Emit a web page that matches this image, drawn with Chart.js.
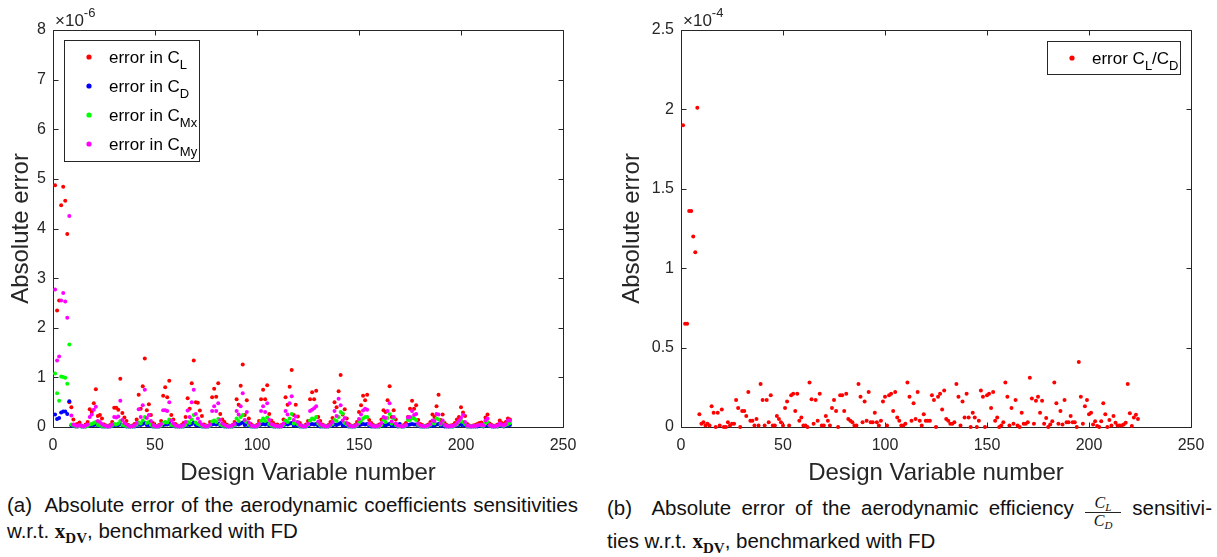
<!DOCTYPE html>
<html><head><meta charset="utf-8">
<script src="https://cdn.jsdelivr.net/npm/chart.js@4.4.0/dist/chart.umd.min.js"></script>
<style>
html,body{margin:0;padding:0;background:#fff;width:1217px;height:557px;overflow:hidden;font-family:"Liberation Sans",Arial,sans-serif;color:#111}
#cL{position:absolute;left:0;top:0}
#cR{position:absolute;left:608px;top:0}
.cap{position:absolute;font-size:20.5px;line-height:25px;white-space:nowrap;color:#111}
.just{text-align:justify;text-align-last:justify}
.bx{font-family:"Liberation Serif",serif;font-weight:bold;font-size:21px}
.bx sub{font-size:15px;vertical-align:-5px;line-height:0}
.frac{display:inline-block;position:relative;width:38px;height:0}
.frac i{position:absolute;left:0;width:38px;text-align:center;text-align-last:center;font-family:"Liberation Serif",serif;font-size:16px;line-height:16px}
.frac i sub{font-size:11px;vertical-align:-3px;line-height:0}
.frac .n{top:-20px}
.frac .d{top:-2px}
.frac .bar{position:absolute;left:1px;right:1px;top:-3px;border-top:1px solid #222}
</style></head>
<body>
<canvas id="cL" width="608" height="490"></canvas>
<canvas id="cR" width="609" height="490"></canvas>
<div class="cap just" style="left:7px;top:492px;width:571px">(a)&nbsp; Absolute error of the aerodynamic coefficients sensitivities</div>
<div class="cap" style="left:7px;top:518px">w.r.t. <span class="bx">x<sub>DV</sub></span>, benchmarked with FD</div>
<div class="cap just" style="left:607px;top:495px;width:605px">(b)&nbsp; Absolute error of the aerodynamic efficiency <span class="frac"><i class="n">C<sub>L</sub></i><span class="bar"></span><i class="d">C<sub>D</sub></i></span> sensitivi-</div>
<div class="cap" style="left:607px;top:528px">ties w.r.t. <span class="bx">x<sub>DV</sub></span>, benchmarked with FD</div>
<script>
// ---------- data ----------
const xTicks = [0, 50, 100, 150, 200, 250];
const yTicksLeft = [0, 1, 2, 3, 4, 5, 6, 7, 8];          // x 1e-6
const yTicksRight = [0, 0.5, 1, 1.5, 2, 2.5];             // x 1e-4

// error in C_L (x 1e-6)
const errCL = [
4.87,2.35,2.55,4.47,4.84,4.56,3.89,0.50,0.40,0.15,
0.05,0.06,0.09,0.03,0.02,0.05,0.10,0.36,0.30,0.48,
0.76,0.22,0.24,0.17,0.05,0.03,0.02,0.04,0.10,0.39,
0.39,0.35,0.97,0.28,0.19,0.12,0.04,0.02,0.03,0.06,
0.15,0.65,0.37,0.82,1.38,0.34,0.46,0.24,0.08,0.03,
0.02,0.04,0.12,0.63,0.80,0.60,0.93,0.24,0.15,0.06,
0.03,0.02,0.04,0.08,0.20,0.58,0.37,0.88,1.34,0.50,
0.49,0.33,0.22,0.05,0.03,0.02,0.10,0.60,0.77,0.61,
0.88,0.26,0.15,0.10,0.05,0.03,0.02,0.04,0.10,0.56,
0.45,0.83,1.26,0.24,0.54,0.17,0.06,0.03,0.02,0.04,
0.12,0.56,0.75,0.56,0.84,0.26,0.13,0.08,0.04,0.05,
0.02,0.04,0.15,0.60,0.45,0.81,1.15,0.24,0.45,0.21,
0.08,0.03,0.02,0.05,0.12,0.56,0.70,0.56,0.73,0.20,
0.12,0.05,0.03,0.02,0.04,0.10,0.18,0.50,0.40,0.72,
1.05,0.25,0.36,0.17,0.06,0.03,0.02,0.04,0.10,0.30,
0.44,0.63,0.54,0.65,0.14,0.08,0.04,0.02,0.03,0.05,
0.15,0.34,0.30,0.54,0.82,0.20,0.34,0.15,0.05,0.03,
0.02,0.04,0.08,0.20,0.37,0.53,0.37,0.44,0.14,0.06,
0.04,0.02,0.03,0.05,0.10,0.25,0.20,0.42,0.65,0.14,
0.25,0.08,0.04,0.02,0.03,0.04,0.08,0.15,0.20,0.40,
0.29,0.22,0.06,0.03,0.02,0.03,0.04,0.06,0.08,0.09,
0.05,0.19,0.25,0.07,0.04,0.02,0.03,0.05,0.13,0.08,
0.06,0.10,0.17,0.15];

// error in C_D (x 1e-6)
const errCD = [
0.25,0.16,0.18,0.29,0.31,0.31,0.26,0.52,0.03,0.02,
0.01,0.01,0.02,0.01,0.01,0.01,0.02,0.03,0.04,0.04,
0.05,0.03,0.02,0.01,0.01,0.01,0.01,0.01,0.02,0.04,
0.04,0.04,0.06,0.03,0.02,0.01,0.01,0.01,0.01,0.01,
0.02,0.05,0.04,0.06,0.08,0.04,0.04,0.02,0.01,0.01,
0.01,0.01,0.02,0.04,0.05,0.05,0.07,0.03,0.02,0.01,
0.01,0.01,0.01,0.01,0.02,0.05,0.04,0.06,0.09,0.04,
0.03,0.02,0.01,0.01,0.01,0.01,0.02,0.05,0.06,0.05,
0.07,0.03,0.02,0.01,0.01,0.01,0.01,0.01,0.02,0.06,
0.05,0.07,0.09,0.04,0.05,0.02,0.01,0.01,0.01,0.01,
0.02,0.05,0.06,0.05,0.07,0.03,0.02,0.01,0.01,0.01,
0.01,0.01,0.02,0.06,0.05,0.07,0.08,0.03,0.04,0.02,
0.01,0.01,0.01,0.01,0.02,0.05,0.06,0.05,0.06,0.02,
0.01,0.01,0.01,0.01,0.01,0.02,0.03,0.05,0.04,0.06,
0.08,0.03,0.04,0.02,0.01,0.01,0.01,0.01,0.02,0.03,
0.05,0.06,0.05,0.06,0.02,0.01,0.01,0.01,0.01,0.01,
0.02,0.04,0.03,0.05,0.06,0.02,0.04,0.02,0.01,0.06,
0.01,0.01,0.02,0.04,0.05,0.06,0.05,0.05,0.02,0.01,
0.01,0.01,0.01,0.01,0.02,0.03,0.03,0.05,0.06,0.02,
0.03,0.01,0.01,0.01,0.01,0.01,0.02,0.03,0.04,0.05,
0.04,0.03,0.01,0.01,0.01,0.01,0.01,0.01,0.02,0.02,
0.01,0.03,0.04,0.02,0.01,0.01,0.01,0.01,0.02,0.02,
0.01,0.02,0.04,0.04];

// error in C_Mx (x 1e-6)
const errCMx = [
1.08,0.68,0.53,1.02,1.01,0.99,0.87,1.66,0.05,0.03,
0.02,0.01,0.02,0.01,0.02,0.01,0.02,0.05,0.06,0.08,
0.10,0.04,0.03,0.02,0.01,0.02,0.01,0.02,0.03,0.06,
0.05,0.07,0.12,0.04,0.03,0.02,0.01,0.02,0.01,0.02,
0.04,0.09,0.07,0.13,0.20,0.08,0.10,0.04,0.02,0.01,
0.02,0.01,0.03,0.08,0.10,0.09,0.15,0.04,0.03,0.02,
0.01,0.02,0.01,0.02,0.04,0.10,0.08,0.15,0.24,0.09,
0.06,0.04,0.02,0.01,0.02,0.01,0.03,0.11,0.13,0.10,
0.16,0.05,0.03,0.02,0.01,0.02,0.01,0.02,0.03,0.17,
0.12,0.20,0.24,0.13,0.10,0.04,0.02,0.01,0.02,0.01,
0.04,0.12,0.17,0.12,0.19,0.06,0.03,0.02,0.01,0.02,
0.01,0.02,0.04,0.13,0.10,0.17,0.26,0.07,0.10,0.05,
0.02,0.01,0.02,0.01,0.04,0.13,0.17,0.15,0.20,0.07,
0.03,0.02,0.01,0.02,0.01,0.03,0.06,0.14,0.12,0.20,
0.30,0.27,0.08,0.05,0.02,0.01,0.02,0.01,0.03,0.08,
0.13,0.17,0.20,0.20,0.05,0.03,0.02,0.01,0.02,0.01,
0.04,0.13,0.10,0.18,0.26,0.07,0.17,0.04,0.02,0.01,
0.02,0.01,0.03,0.14,0.14,0.18,0.17,0.14,0.04,0.02,
0.01,0.02,0.01,0.02,0.04,0.08,0.07,0.17,0.15,0.05,
0.10,0.03,0.02,0.01,0.02,0.01,0.03,0.05,0.10,0.13,
0.10,0.06,0.02,0.01,0.02,0.01,0.02,0.03,0.04,0.03,
0.02,0.07,0.10,0.03,0.02,0.01,0.02,0.02,0.05,0.03,
0.02,0.04,0.06,0.08];

// error in C_My (x 1e-6)
const errCMy = [
2.77,1.34,1.42,2.55,2.70,2.53,2.20,4.25,0.23,0.05,
0.03,0.02,0.04,0.02,0.01,0.03,0.05,0.20,0.25,0.35,
0.41,0.12,0.10,0.06,0.03,0.02,0.01,0.02,0.05,0.20,
0.19,0.21,0.53,0.14,0.08,0.05,0.02,0.01,0.02,0.03,
0.08,0.36,0.20,0.44,0.75,0.18,0.24,0.12,0.04,0.02,
0.01,0.02,0.06,0.34,0.34,0.32,0.50,0.13,0.07,0.03,
0.02,0.01,0.02,0.04,0.10,0.33,0.20,0.50,0.75,0.26,
0.17,0.10,0.05,0.02,0.01,0.02,0.05,0.32,0.42,0.32,
0.48,0.14,0.07,0.04,0.02,0.01,0.02,0.03,0.06,0.32,
0.25,0.42,0.68,0.14,0.30,0.09,0.03,0.02,0.01,0.02,
0.06,0.32,0.42,0.30,0.48,0.14,0.06,0.04,0.02,0.02,
0.01,0.02,0.07,0.32,0.25,0.48,0.62,0.14,0.21,0.10,
0.04,0.02,0.01,0.02,0.06,0.32,0.35,0.38,0.42,0.11,
0.06,0.03,0.02,0.01,0.02,0.05,0.10,0.32,0.22,0.57,
0.44,0.13,0.18,0.08,0.03,0.02,0.01,0.02,0.05,0.16,
0.25,0.33,0.37,0.35,0.07,0.04,0.02,0.01,0.02,0.03,
0.08,0.20,0.18,0.32,0.48,0.11,0.20,0.07,0.03,0.02,
0.01,0.02,0.04,0.19,0.20,0.32,0.24,0.26,0.07,0.03,
0.02,0.01,0.02,0.03,0.06,0.13,0.12,0.26,0.25,0.07,
0.13,0.04,0.02,0.01,0.02,0.02,0.04,0.08,0.13,0.18,
0.24,0.10,0.03,0.02,0.01,0.02,0.02,0.03,0.04,0.05,
0.03,0.13,0.17,0.04,0.02,0.01,0.02,0.03,0.07,0.04,
0.03,0.06,0.13,0.13];

// error in C_L/C_D (x 1e-4)
const errEff = [
1.90,0.65,0.65,1.36,1.36,1.20,1.10,2.01,0.08,0.02,
0.03,0.01,0.02,0.01,0.13,0.09,0.00,0.09,0.01,0.11,
0.00,0.00,0.03,0.01,0.02,0.02,0.17,0.12,0.00,0.10,
0.10,0.07,0.22,0.04,0.04,0.01,0.05,0.01,0.27,0.17,
0.01,0.17,0.03,0.20,0.01,0.01,0.07,0.05,0.03,0.01,
0.12,0.16,0.01,0.20,0.21,0.10,0.21,0.04,0.06,0.01,
0.01,0.00,0.28,0.175,0.02,0.17,0.04,0.21,0.01,0.01,
0.07,0.04,0.01,0.12,0.17,0.10,0.00,0.20,0.20,0.10,
0.21,0.05,0.04,0.03,0.01,0.01,0.27,0.19,0.03,0.16,
0.04,0.22,0.03,0.03,0.09,0.03,0.01,0.04,0.16,0.19,
0.01,0.20,0.21,0.10,0.22,0.06,0.04,0.01,0.01,0.02,
0.28,0.19,0.04,0.15,0.05,0.22,0.04,0.01,0.08,0.04,
0.04,0.04,0.20,0.17,0.00,0.19,0.21,0.11,0.23,0.05,
0.04,0.02,0.02,0.03,0.27,0.19,0.01,0.16,0.06,0.21,
0.06,0.00,0.09,0.06,0.00,0.04,0.23,0.19,0.00,0.20,
0.21,0.12,0.22,0.04,0.06,0.00,0.01,0.03,0.28,0.19,
0.01,0.12,0.02,0.17,0.01,0.00,0.09,0.02,0.02,0.03,
0.31,0.18,0.02,0.165,0.19,0.09,0.165,0.02,0.057,0.00,
0.015,0.036,0.28,0.15,0.02,0.10,0.015,0.17,0.03,0.03,
0.07,0.03,0.03,0.00,0.41,0.19,0.02,0.13,0.17,0.08,
0.09,0.015,0.036,0.006,0.00,0.036,0.15,0.08,0.00,0.044,
0.01,0.07,0.027,0.01,0.01,0.01,0.015,0.027,0.27,0.086,
0.006,0.06,0.077,0.05];

const designVariable = errCL.map((_, i) => i + 1);

// ---------- rendering ----------
const FONT = '"Liberation Sans", Arial, Helvetica, sans-serif';
const AX = '#262626';
Chart.defaults.font.family = FONT;
Chart.defaults.color = AX;

const pts = arr => arr.map((v, i) => ({x: designVariable[i], y: v}));
const ds = (label, arr, color, order) => ({
  label, data: pts(arr), backgroundColor: color, borderColor: color,
  pointRadius: 2, pointBorderWidth: 0, pointHoverRadius: 2, order, clip: false
});

function framePlugin(cfg) {
  return {
    id: 'frame',
    beforeDatasetsDraw(chart) {
      const {ctx, chartArea: a, scales} = chart;
      const L = Math.round(a.left) + 0.5, R = Math.round(a.right) + 0.5;
      const T = Math.round(a.top) + 0.5, B = Math.round(a.bottom) + 0.5;
      ctx.save();
      ctx.strokeStyle = AX; ctx.lineWidth = 1;
      ctx.beginPath();
      ctx.rect(L, T, R - L, B - T);
      scales.x.ticks.forEach(t => {
        const px = Math.round(scales.x.getPixelForValue(t.value)) + 0.5;
        ctx.moveTo(px, B); ctx.lineTo(px, B - 5);
        ctx.moveTo(px, T); ctx.lineTo(px, T + 5);
      });
      scales.y.ticks.forEach(t => {
        const py = Math.round(scales.y.getPixelForValue(t.value)) + 0.5;
        ctx.moveTo(L, py); ctx.lineTo(L + 5, py);
        ctx.moveTo(R, py); ctx.lineTo(R - 5, py);
      });
      ctx.stroke();
      ctx.restore();
    },
    afterDatasetsDraw(chart) {
      const {ctx, chartArea: a} = chart;
      ctx.save();
      // exponent label
      ctx.fillStyle = AX;
      ctx.textBaseline = 'alphabetic';
      ctx.font = '17px ' + FONT;
      const ex = a.left + 2;
      ctx.fillText('\u00d710', ex, 26);
      const w = ctx.measureText('\u00d710').width;
      ctx.font = '13px ' + FONT;
      ctx.fillText(cfg.exp, ex + w, 17);
      // legend
      const lg = cfg.legend;
      ctx.fillStyle = '#fff';
      ctx.fillRect(lg.x, lg.y, lg.w, lg.h);
      ctx.strokeStyle = AX; ctx.lineWidth = 1;
      ctx.strokeRect(lg.x + 0.5, lg.y + 0.5, lg.w, lg.h);
      lg.items.forEach((it, k) => {
        const cy = lg.y + lg.first + k * lg.step;
        ctx.fillStyle = it.color;
        ctx.beginPath(); ctx.arc(lg.x + lg.dotX, cy, 2.6, 0, Math.PI * 2); ctx.fill();
        ctx.fillStyle = '#000';
        let tx = lg.x + lg.textX;
        it.parts.forEach(([s, sub]) => {
          ctx.font = (sub ? '13px ' : '17px ') + FONT;
          ctx.fillText(s, tx, cy + (sub ? 12 : 6));
          tx += ctx.measureText(s).width;
        });
      });
      ctx.restore();
    }
  };
}

function makeChart(id, datasets, opt) {
  return new Chart(document.getElementById(id), {
    type: 'scatter',
    data: {datasets},
    options: {
      responsive: false, animation: false, devicePixelRatio: 1,
      layout: {padding: {left: 0, right: opt.padRight, top: 30, bottom: 0}},
      plugins: {legend: {display: false}, tooltip: {enabled: false}},
      events: [],
      scales: {
        x: {
          type: 'linear', min: 0, max: 250,
          afterBuildTicks: s => { s.ticks = xTicks.map(v => ({value: v})); },
          ticks: {padding: 9, font: {size: 16}, color: AX, maxRotation: 0, autoSkip: false},
          grid: {display: false, drawTicks: false},
          border: {display: false},
          title: {display: true, text: 'Design Variable number', font: {size: 24}, color: AX, padding: {top: 0, bottom: 2}},
          afterFit: s => { s.height = 63; }
        },
        y: {
          type: 'linear', min: 0, max: opt.yMax,
          afterBuildTicks: s => { s.ticks = opt.yTicks.map(v => ({value: v})); },
          ticks: {padding: 7, font: {size: 16}, color: AX, autoSkip: false, callback: v => String(v)},
          grid: {display: false, drawTicks: false},
          border: {display: false},
          title: {display: true, text: 'Absolute error', font: {size: 24}, color: AX, padding: {top: opt.yTitlePad, bottom: 0}},
          afterFit: s => { s.width = opt.yWidth; }
        }
      }
    },
    plugins: [framePlugin(opt)]
  });
}

makeChart('cL', [
  ds('error in C_L', errCL, '#ff0000', 4),
  ds('error in C_D', errCD, '#0000ff', 3),
  ds('error in C_Mx', errCMx, '#00ff00', 2),
  ds('error in C_My', errCMy, '#ff00ff', 1)
], {
  padRight: 45, yWidth: 53, yTitlePad: 7, yMax: 8, yTicks: yTicksLeft, exp: '-6',
  legend: {x: 64, y: 40, w: 135, h: 121, dotX: 25, textX: 45, first: 17, step: 29,
    items: [
      {color: '#ff0000', parts: [['error in C', 0], ['L', 1]]},
      {color: '#0000ff', parts: [['error in C', 0], ['D', 1]]},
      {color: '#00ff00', parts: [['error in C', 0], ['Mx', 1]]},
      {color: '#ff00ff', parts: [['error in C', 0], ['My', 1]]}
    ]}
});

makeChart('cR', [
  ds('error C_L/C_D', errEff, '#ff0000', 1)
], {
  padRight: 26, yWidth: 73, yTitlePad: 10, yMax: 2.5, yTicks: yTicksRight, exp: '-4',
  legend: {x: 439, y: 41, w: 133, h: 33, dotX: 25, textX: 45, first: 17, step: 29,
    items: [
      {color: '#ff0000', parts: [['error C', 0], ['L', 1], ['/C', 0], ['D', 1]]}
    ]}
});
</script>
</body></html>
